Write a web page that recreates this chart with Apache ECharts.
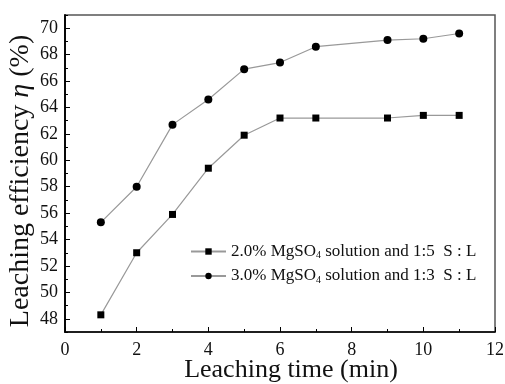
<!DOCTYPE html>
<html>
<head>
<meta charset="utf-8">
<script src="https://cdn.jsdelivr.net/npm/echarts@6/dist/echarts.min.js"></script>
<style>
  html, body { margin: 0; padding: 0; background: #fff; }
  #chart { width: 505px; height: 384px; }
</style>
</head>
<body>
<div id="chart"></div>
<script>
// Leaching time in minutes
const times = [1, 2, 3, 4, 5, 6, 7, 9, 10, 11];
// Leaching efficiency (%) for the two MgSO4 conditions
const eff20 = [48.3, 53.0, 55.9, 59.4, 61.9, 63.2, 63.2, 63.2, 63.4, 63.4];
const eff30 = [55.3, 58.0, 62.7, 64.6, 66.9, 67.4, 68.6, 69.1, 69.2, 69.6];
const seriesNames = ['2.0% MgSO4 solution and 1:5  S : L', '3.0% MgSO4 solution and 1:3  S : L'];
// Tick values on the efficiency axis
const yMajor = [48, 50, 52, 54, 56, 58, 60, 62, 64, 66, 68, 70];
const yMinor = [47, 49, 51, 53, 55, 57, 59, 61, 63, 65, 67, 69, 71];

const serif = '"Liberation Serif", "Times New Roman", serif';
const pairs = vals => times.map((t, i) => [t, vals[i]]);

const chart = echarts.init(document.getElementById('chart'));

const yBase = {
  type: 'value', min: 47, max: 71, position: 'left',
  axisLine: { show: true, lineStyle: { color: '#000', width: 1.5 } },
  splitLine: { show: false }
};

chart.setOption({
  animation: false,
  backgroundColor: '#fff',
  grid: {
    left: 65, right: 10, top: 15, bottom: 52, containLabel: false, outerBoundsMode: 'none',
    show: true, borderColor: '#555', borderWidth: 1.5, backgroundColor: 'transparent'
  },
  legend: {
    left: 190, top: 243, orient: 'vertical', itemGap: 7, padding: 0,
    itemWidth: 35, itemHeight: 8,
    data: seriesNames,
    formatter: name => name.replace('MgSO4', 'MgSO{sub|4}'),
    textStyle: {
      fontFamily: serif, fontSize: 17, color: '#111',
      rich: { sub: { fontFamily: serif, fontSize: 10, color: '#111', verticalAlign: 'bottom', padding: [8, 0, 0, 0] } }
    }
  },
  xAxis: {
    type: 'value', min: 0, max: 12, interval: 2,
    name: 'Leaching time (min)', nameLocation: 'middle', nameGap: 25, nameMoveOverlap: false,
    nameTextStyle: { fontFamily: serif, fontSize: 26, color: '#111', padding: [0, 0, 0, 22] },
    axisLine: { lineStyle: { color: '#000', width: 1.5 } },
    axisTick: { inside: true, length: 5, lineStyle: { color: '#000' } },
    minorTick: { show: true, splitNumber: 2, length: 3, lineStyle: { color: '#000' } },
    axisLabel: { fontFamily: serif, fontSize: 18, color: '#111', margin: 9 },
    splitLine: { show: false }
  },
  yAxis: [
    Object.assign({}, yBase, {
      name: 'Leaching efficiency {i|η} (%)', nameLocation: 'middle', nameGap: 30, nameMoveOverlap: false,
      nameTextStyle: {
        fontFamily: serif, fontSize: 28, color: '#111', padding: [0, 15, 0, 0],
        rich: { i: { fontFamily: serif, fontSize: 28, fontStyle: 'italic', color: '#111' } }
      },
      axisTick: { inside: true, length: 5, customValues: yMajor, lineStyle: { color: '#000' } },
      axisLabel: { fontFamily: serif, fontSize: 18, color: '#111', margin: 7, customValues: yMajor }
    }),
    Object.assign({}, yBase, {
      axisTick: { inside: true, length: 3, customValues: yMinor, lineStyle: { color: '#000' } },
      axisLabel: { show: false }
    })
  ],
  series: [
    {
      name: seriesNames[0], type: 'line', data: pairs(eff20),
      symbol: 'rect', symbolSize: 7,
      itemStyle: { color: '#000' },
      lineStyle: { color: '#999', width: 1.2 }
    },
    {
      name: seriesNames[1], type: 'line', data: pairs(eff30),
      symbol: 'circle', symbolSize: 8,
      itemStyle: { color: '#000' },
      lineStyle: { color: '#999', width: 1.2 }
    }
  ]
});
</script>
</body>
</html>
